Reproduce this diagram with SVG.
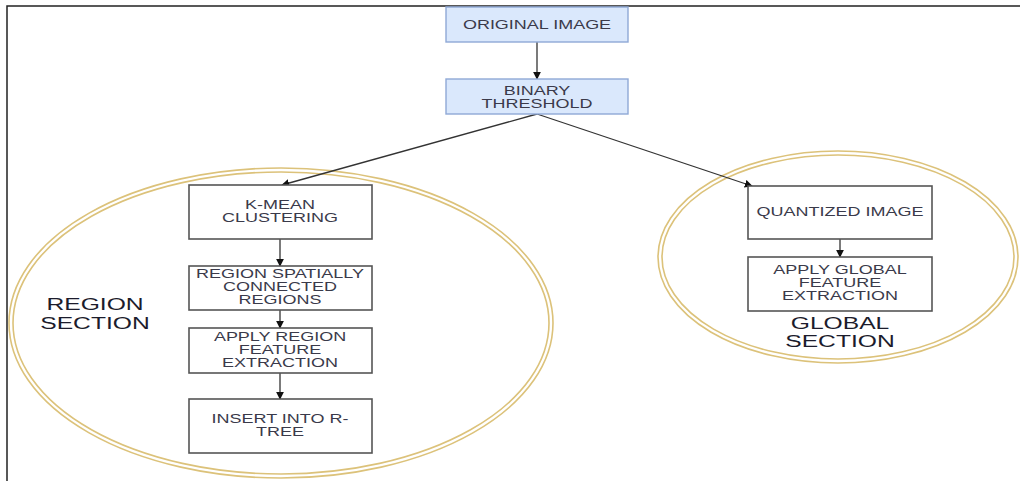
<svg xmlns="http://www.w3.org/2000/svg" width="1020" height="481" viewBox="0 0 1020 481">
  <style>
    .box { fill: #ffffff; stroke: #555555; stroke-width: 1.6; }
    .blue { fill: #dae8fc; stroke: #8fa9d6; stroke-width: 1.4; }
    .lbl { font-family: "Liberation Sans", Arial, sans-serif; font-size: 12px; fill: #3a3a4a; text-anchor: middle; }
    .sec { font-family: "Liberation Sans", Arial, sans-serif; font-size: 17px; fill: #1c1c2c; text-anchor: middle; }
    .ring { fill: none; stroke: #dcc27a; stroke-width: 1.6; }
    .edge { fill: none; stroke: #333333; stroke-width: 1.3; }
  </style>
  <defs>
    <marker id="arrow" viewBox="0 0 10 10" refX="9" refY="5" markerWidth="8" markerHeight="8" markerUnits="userSpaceOnUse" orient="auto">
      <path d="M0,0 L10,5 L0,10 Z" fill="#111111"/>
    </marker>
  </defs>

  <rect width="1020" height="481" fill="#ffffff"/>
  <!-- page frame -->
  <path d="M7,481 L7,6 L1020,6" fill="none" stroke="#222222" stroke-width="1.5"/>

  <!-- section outlines; all lettering is drawn wide (x1.5) -->
  <g id="region-section">
    <ellipse class="ring" cx="281" cy="323" rx="272" ry="155"/>
    <ellipse class="ring" cx="281" cy="323" rx="268" ry="151"/>
    <text class="sec" transform="translate(95 310) scale(1.45 1)">REGION</text>
    <text class="sec" transform="translate(95 329) scale(1.45 1)">SECTION</text>
  </g>
  <g id="global-section">
    <ellipse class="ring" cx="838" cy="257" rx="180" ry="106"/>
    <ellipse class="ring" cx="838" cy="257" rx="176" ry="102"/>
    <text class="sec" transform="translate(840 329) scale(1.45 1)">GLOBAL</text>
    <text class="sec" transform="translate(840 347) scale(1.45 1)">SECTION</text>
  </g>

  <g id="connectors">
    <line class="edge" x1="537" y1="42" x2="537" y2="79" marker-end="url(#arrow)"/>
    <line class="edge" x1="537" y1="114" x2="282" y2="185" marker-end="url(#arrow)"/>
    <line class="edge" x1="537" y1="114" x2="752" y2="186" marker-end="url(#arrow)"/>
    <line class="edge" x1="280" y1="239" x2="280" y2="266" marker-end="url(#arrow)"/>
    <line class="edge" x1="280" y1="310" x2="280" y2="328" marker-end="url(#arrow)"/>
    <line class="edge" x1="280" y1="373" x2="280" y2="399" marker-end="url(#arrow)"/>
    <line class="edge" x1="840" y1="239" x2="840" y2="257" marker-end="url(#arrow)"/>
  </g>

  <g id="original-image">
    <rect class="blue" x="446" y="7" width="182" height="35"/>
    <text class="lbl" transform="translate(537 29) scale(1.5 1)">ORIGINAL IMAGE</text>
  </g>
  <g id="binary-threshold">
    <rect class="blue" x="446" y="79" width="182" height="35"/>
    <text class="lbl" transform="translate(537 95) scale(1.5 1)">BINARY</text>
    <text class="lbl" transform="translate(537 108) scale(1.5 1)">THRESHOLD</text>
  </g>
  <g id="k-mean">
    <rect class="box" x="189" y="185" width="183" height="54"/>
    <text class="lbl" transform="translate(280 209) scale(1.5 1)">K-MEAN</text>
    <text class="lbl" transform="translate(280 222) scale(1.5 1)">CLUSTERING</text>
  </g>
  <g id="spatial-regions">
    <rect class="box" x="189" y="266" width="183" height="44"/>
    <text class="lbl" transform="translate(280 278) scale(1.5 1)">REGION SPATIALLY</text>
    <text class="lbl" transform="translate(280 291) scale(1.5 1)">CONNECTED</text>
    <text class="lbl" transform="translate(280 304) scale(1.5 1)">REGIONS</text>
  </g>
  <g id="region-features">
    <rect class="box" x="189" y="328" width="183" height="45"/>
    <text class="lbl" transform="translate(280 341) scale(1.5 1)">APPLY REGION</text>
    <text class="lbl" transform="translate(280 354) scale(1.5 1)">FEATURE</text>
    <text class="lbl" transform="translate(280 367) scale(1.5 1)">EXTRACTION</text>
  </g>
  <g id="r-tree">
    <rect class="box" x="189" y="399" width="183" height="54"/>
    <text class="lbl" transform="translate(280 423) scale(1.5 1)">INSERT INTO R-</text>
    <text class="lbl" transform="translate(280 436) scale(1.5 1)">TREE</text>
  </g>
  <g id="quantized-image">
    <rect class="box" x="748" y="186" width="184" height="53"/>
    <text class="lbl" transform="translate(840 216) scale(1.5 1)">QUANTIZED IMAGE</text>
  </g>
  <g id="global-features">
    <rect class="box" x="748" y="257" width="184" height="54"/>
    <text class="lbl" transform="translate(840 274) scale(1.5 1)">APPLY GLOBAL</text>
    <text class="lbl" transform="translate(840 287) scale(1.5 1)">FEATURE</text>
    <text class="lbl" transform="translate(840 300) scale(1.5 1)">EXTRACTION</text>
  </g>
</svg>
